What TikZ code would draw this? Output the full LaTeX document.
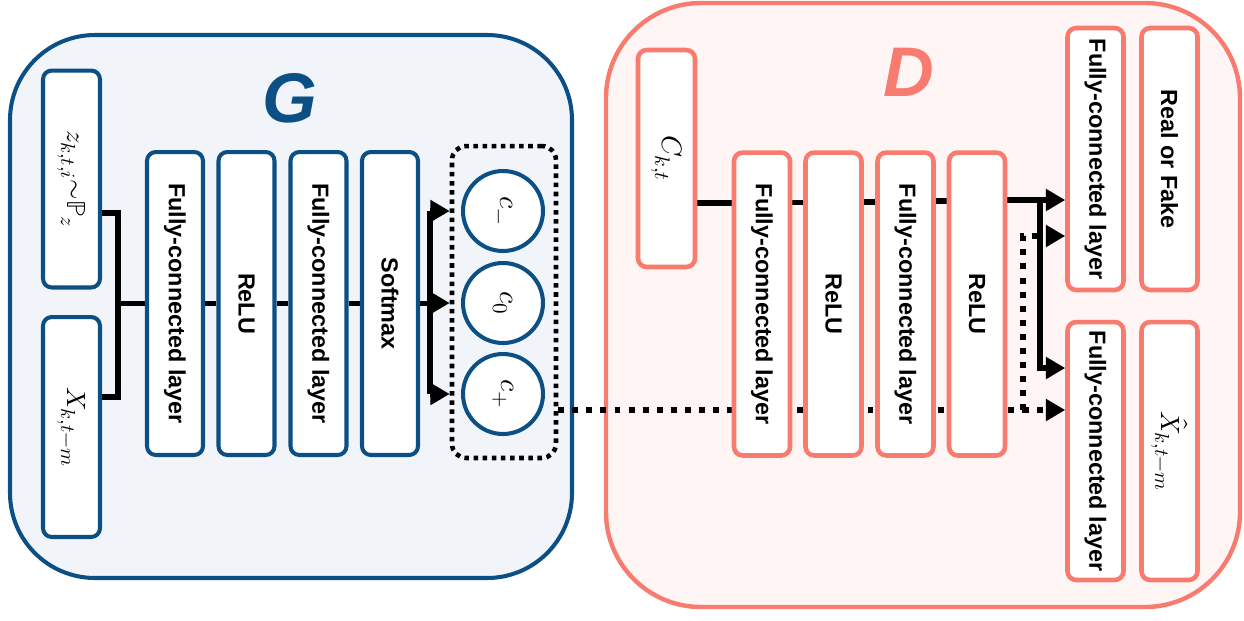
\documentclass[tikz,border=0pt]{standalone}
\usepackage{amsmath}
\usepackage{fontspec}
\usepackage{unicode-math}
\setmathfont{Latin Modern Math}
\setsansfont{Liberation Sans}
\DeclareMathSizes{16}{16}{12}{9}
\DeclareMathSizes{15}{15}{11.5}{9}
\usetikzlibrary{arrows.meta}
\pgfdeclarelayer{bg}
\pgfsetlayers{bg,main}
\definecolor{gblue}{RGB}{12,79,133}
\definecolor{gfill}{RGB}{241,245,249}
\definecolor{dred}{RGB}{247,123,110}
\definecolor{dfill}{RGB}{255,245,244}
\tikzset{
  boxbase/.style={line width=2.3pt, fill=white, rounded corners=5pt, rotate=-90, inner sep=0pt,
    font=\sffamily\bfseries\fontsize{13.3}{14}\selectfont},
  gbox/.style={boxbase, draw=gblue},
  dbox/.style={boxbase, draw=dred, line width=2.6pt},
  layerbox/.style={minimum width=6.06cm, minimum height=1.12cm},
  mathlbl/.style={font=\fontsize{15}{15}\selectfont},
  cnode/.style={circle, draw=gblue, line width=2.3pt, fill=white, minimum size=1.6cm, rotate=-90, inner sep=0pt,
    font=\fontsize{16}{16}\selectfont},
  conn/.style={line width=3pt},
  arrtip/.style={-{Triangle[length=11pt,width=12pt]}},
  dotline/.style={line width=3.4pt, dash pattern=on 3.4pt off 4.6pt},
  titlelbl/.style={font=\sffamily\bfseries\itshape\fontsize{40}{40}\selectfont}
}
\begin{document}
\begin{tikzpicture}[x=0.02cm,y=-0.02cm]
\useasboundingbox (0,0) rectangle (1244,620);
\begin{pgfonlayer}{bg}
\draw[gblue, fill=gfill, line width=2.3pt, rounded corners=1.7cm] (10,35) rectangle (572,578);
\draw[dred, fill=dfill, line width=2.5pt, rounded corners=1.9cm] (606,3) rectangle (1240,607);
\end{pgfonlayer}

% titles
\node[titlelbl, text=gblue] (gt) at (290,98) {G};
\node[titlelbl, text=dred] (dt) at (909,72) {D};

% Generator
\node[gbox, mathlbl, minimum width=4.34cm, minimum height=1.14cm] (z) at (71.5,179) {$z_{k,t,i}{\sim}\mathbb{P}_z$};
\node[gbox, mathlbl, minimum width=4.4cm, minimum height=1.14cm] (x) at (71.5,427) {$X_{k,t-m}$};
\node[gbox, layerbox] (gfc1) at (175,303.5) {Fully-connected layer};
\node[gbox, layerbox] (grelu) at (246.5,303.5) {ReLU};
\node[gbox, layerbox] (gfc2) at (318.5,303.5) {Fully-connected layer};
\node[gbox, layerbox] (soft) at (390,303.5) {Softmax};
\node[draw, line width=2.6pt, dash pattern=on 2.6pt off 2.6pt, rounded corners=8pt,
      minimum width=2.08cm, minimum height=6.24cm, inner sep=0pt] (cbox) at (504,302) {};
\node[cnode] (cm) at (503,211) {$c_-$};
\node[cnode] (c0) at (503,303) {$c_0$};
\node[cnode] (cp) at (503,394) {$c_+$};

% Discriminator
\node[dbox, font=\fontsize{16}{16}\selectfont, minimum width=4.34cm, minimum height=1.14cm] (ck) at (666.5,158.5) {$C_{k,t}$};
\node[dbox, layerbox] (dfc1) at (762,304) {Fully-connected layer};
\node[dbox, layerbox] (drelu1) at (833.5,304) {ReLU};
\node[dbox, layerbox] (dfc2) at (905.5,304) {Fully-connected layer};
\node[dbox, layerbox] (drelu2) at (977,304) {ReLU};
\node[dbox, minimum width=5.24cm, minimum height=1.12cm] (fct) at (1095.5,159) {Fully-connected layer};
\node[dbox, minimum width=5.24cm, minimum height=1.12cm] (rf) at (1169.5,159) {Real or Fake};
\node[dbox, minimum width=5.16cm, minimum height=1.12cm] (fcb) at (1095.5,451) {Fully-connected layer};
\node[dbox, mathlbl, minimum width=5.16cm, minimum height=1.12cm] (xh) at (1169.5,451) {$\hat{X}_{k,t-m}$};

\begin{pgfonlayer}{bg}
% generator connectors
\coordinate (jg) at (118,303.5);
\draw[conn] (z.north |- 0,213) -| (jg) |- (x.north |- 0,397);
\draw[conn] (jg) -- (gfc1.south);
\draw[conn] (gfc1.north) -- (grelu.south);
\draw[conn] (grelu.north) -- (gfc2.south);
\draw[conn] (gfc2.north) -- (soft.south);
\coordinate (jg2) at (430,303.5);
\draw[conn] (soft.north) -- (jg2);
\draw[conn] (jg2 |- cm.center) -- (jg2 |- cp.center);
\draw[conn, arrtip] (jg2 |- cm.center) -- (cbox.west |- cm.center);
\draw[conn, arrtip] (jg2 |- c0.center) -- (cbox.west |- c0.center);
\draw[conn, arrtip] (jg2 |- cp.center) -- (cbox.west |- cp.center);
% dotted path from G output to D
\coordinate (jd) at (1023,410);
\draw[dotline] (cbox.east |- jd) -- (jd);
\draw[dotline, arrtip] (jd) -- (fcb.south |- jd);
\draw[dotline, arrtip] (jd) |- (fct.south |- 0,236);
% discriminator connectors
\draw[conn] (ck.north |- 0,203) -- (dfc1.south |- 0,203);
\draw[conn] (dfc1.north |- 0,202.5) -- (drelu1.south |- 0,202.5);
\draw[conn] (drelu1.north |- 0,202) -- (dfc2.south |- 0,202);
\draw[conn] (dfc2.north |- 0,201) -- (drelu2.south |- 0,201);
\coordinate (jd2) at (1040,200);
\draw[conn, arrtip] (drelu2.north |- jd2) -- (fct.south |- jd2);
\draw[conn, arrtip] (jd2) |- (fcb.south |- 0,368);
\end{pgfonlayer}
\end{tikzpicture}
\end{document}
